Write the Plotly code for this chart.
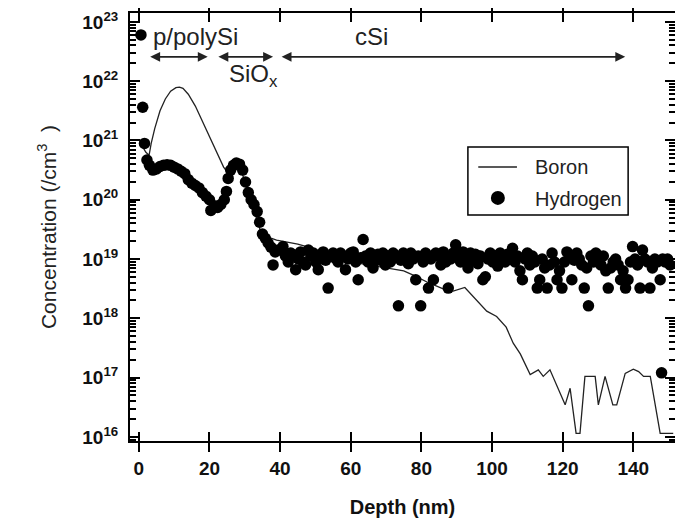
import numpy as np
import plotly.graph_objects as go

# ---------------- data ----------------
boron_depth = [0.5, 2.0, 2.9, 3.5, 4.5, 6.0, 7.5, 9.0, 10.5, 11.5, 12.5, 14.0, 16.0, 18.0, 20.0,
               22.0, 24.0, 25.3, 26.5, 27.5, 28.5, 29.5, 30.5, 31.5, 32.5, 33.5, 34.3, 35.5,
               37.0, 39.0, 41.8, 45.0, 48.0, 52.0, 56.0, 60.0, 65.0, 70.0, 75.0, 78.0, 82.0,
               86.0, 89.0, 92.3, 94.7, 98.5, 101.3, 104.0, 106.0, 108.0, 110.8, 113.1, 114.5,
               116.4, 120.7, 122.1, 123.8, 124.9, 126.3, 129.2, 130.1, 132.0, 134.2, 135.3,
               137.7, 140.0, 141.5, 142.9, 144.8, 147.6, 151.3]
boron_log10 = [20.95, 20.80, 20.75, 20.95, 21.20, 21.50, 21.70, 21.83, 21.89, 21.90, 21.88, 21.78,
               21.58, 21.32, 21.05, 20.80, 20.55, 20.45, 20.55, 20.60, 20.55, 20.40, 20.20, 20.00,
               19.85, 19.65, 19.50, 19.42, 19.36, 19.32, 19.29, 19.25, 19.20, 19.10, 19.02, 18.95,
               18.90, 18.85, 18.80, 18.72, 18.60, 18.50, 18.46, 18.52, 18.37, 18.12, 18.03, 17.85,
               17.58, 17.40, 17.05, 17.13, 17.02, 17.13, 16.54, 16.82, 16.06, 16.06, 17.02, 17.02,
               16.54, 17.02, 16.54, 16.54, 17.07, 17.14, 17.10, 17.02, 17.02, 16.06, 16.06]

hydrogen_depth = [0.6, 1.1, 1.6, 2.3, 3.0, 4.0, 5.0, 6.0, 7.0, 8.0, 9.0, 10.0, 11.0, 12.0, 13.0,
                  14.0, 15.0, 16.0, 17.0, 18.0, 19.0, 20.0, 20.4, 21.4, 22.3, 23.2, 24.2, 24.8,
                  25.3, 26.0, 26.8, 27.6, 28.5, 29.4, 30.2, 31.0, 31.8, 32.6, 33.5, 34.2, 35.0,
                  35.8, 36.6, 37.4, 38.0, 38.6,
                  39.5, 40.8, 41.5, 42.3, 43.0, 43.7, 44.4, 45.1, 45.8, 46.5, 47.2, 48.0, 48.7,
                  49.4, 50.1, 50.8, 51.5, 52.2, 52.9, 53.6, 54.3, 55.0, 55.7, 56.4, 57.1, 57.8,
                  58.5, 59.2, 60.0, 60.7, 61.4, 62.1, 62.8, 63.5, 64.2, 64.9, 65.6, 66.3, 67.0,
                  67.7, 68.4, 69.1, 69.8, 70.5, 71.2, 72.0, 72.7, 73.5, 74.2, 74.9, 75.6, 76.3,
                  77.0, 77.7, 78.4, 79.1, 79.8, 80.5, 81.2, 82.0, 82.7, 83.4, 84.1, 84.8, 85.5,
                  86.2, 86.9, 87.6, 88.3, 89.0, 89.7, 90.4, 91.1, 91.8, 92.5, 93.2, 93.9, 94.6,
                  95.3, 96.0, 96.7, 97.4, 98.1, 98.8, 99.5, 100.2, 100.9, 101.6, 102.3, 103.0,
                  103.7, 104.4, 105.1, 105.8, 106.5, 107.2, 107.9, 108.6, 109.3, 110.0, 110.7,
                  111.4, 112.1, 112.8, 113.5, 114.2, 114.9, 115.6, 116.3, 117.0, 117.7, 118.4,
                  119.1, 119.8, 120.5, 121.2, 121.9, 122.6, 123.3, 124.0, 124.7, 125.4, 126.1,
                  126.8, 127.3, 128.0, 128.7, 129.4, 130.1, 130.8, 131.5, 132.2, 132.9, 133.6,
                  134.3, 135.0, 135.7, 136.4, 137.1, 137.8, 138.5, 139.2, 139.8, 140.5, 141.2,
                  141.9, 142.6, 143.3, 144.0, 144.7, 145.4, 146.1, 146.8, 147.6, 148.0, 148.3,
                  149.0, 149.7, 150.4]
hydrogen_log10 = [22.78, 21.56, 20.95, 20.67, 20.58, 20.50, 20.52, 20.56, 20.58, 20.59, 20.58,
                  20.55, 20.52, 20.48, 20.44, 20.34, 20.28, 20.24, 20.20, 20.12, 20.06, 20.00,
                  19.82, 19.90, 19.87, 19.92, 20.00, 20.14, 20.36, 20.50, 20.58, 20.62, 20.60,
                  20.50, 20.30, 20.12, 20.00, 19.92, 19.80, 19.62, 19.42, 19.35, 19.27, 19.20,
                  18.90, 19.12,
                  19.15, 19.21, 19.05, 18.95, 19.10, 19.07, 18.82, 19.00, 19.12, 18.95, 18.90,
                  19.15, 19.05, 19.10, 18.95, 18.82, 19.00, 19.12, 18.98, 18.51, 19.05, 19.10,
                  19.01, 18.95, 19.10, 19.05, 18.82, 19.00, 19.10, 19.12, 18.95, 18.65, 19.02,
                  19.33, 19.05, 18.95, 19.10, 18.85, 19.00, 19.08, 18.98, 19.10, 18.90, 19.05,
                  18.95, 19.10, 19.02, 18.21, 18.98, 19.10, 19.05, 18.92, 19.10, 19.00, 18.65,
                  19.05, 18.21, 18.95, 19.10, 18.51, 19.00, 18.65, 19.10, 19.05, 18.90, 19.12,
                  18.95, 18.51, 19.00, 19.10, 19.24, 19.05, 18.95, 19.12, 19.00, 18.85, 19.10,
                  18.98, 19.08, 18.92, 19.05, 18.65, 18.70, 19.00, 19.10, 18.95, 19.05, 18.88,
                  19.10, 19.00, 18.95, 19.08, 19.00, 19.18, 18.95, 19.05, 18.80, 18.65, 19.00,
                  19.10, 18.90, 19.05, 18.95, 18.51, 18.65, 19.00, 18.85, 18.51, 18.90, 19.10,
                  18.95, 18.65, 18.80, 18.51, 18.95, 19.12, 19.05, 18.65, 18.98, 19.10, 19.00,
                  18.90, 18.51, 18.85, 18.21, 19.05, 18.95, 19.10, 18.98, 18.90, 19.05, 18.80,
                  18.51, 18.85, 18.95, 19.00, 18.90, 18.65, 18.80, 18.51, 18.65, 18.95, 19.21,
                  19.00, 18.90, 18.51, 19.15, 19.00, 18.95, 18.51, 18.85, 19.00, 18.95, 18.65,
                  17.08, 19.00, 18.95, 19.00, 18.90]

x_ticks = [0, 20, 40, 60, 80, 100, 120, 140]
y_exponents = [16, 17, 18, 19, 20, 21, 22, 23]

# region annotations (depth in nm, height as log10 concentration)
arrow_level = 22.41
regions = [(2.8, 19.5), (22.1, 38.0), (40.0, 137.7)]

boron_conc = np.power(10.0, boron_log10)
hydrogen_conc = np.power(10.0, hydrogen_log10)

FONT = "Liberation Sans, Arial, sans-serif"

fig = go.Figure()
fig.add_trace(go.Scatter(x=boron_depth, y=boron_conc, mode="lines", name="Boron",
                         line=dict(color="#222222", width=1.3)))
fig.add_trace(go.Scatter(x=hydrogen_depth, y=hydrogen_conc, mode="markers", name="Hydrogen",
                         marker=dict(color="black", size=11.5, line=dict(width=0))))
# carrier for the second (inside-tick) x axis
fig.add_trace(go.Scatter(x=[], y=[], xaxis="x2", yaxis="y", showlegend=False, hoverinfo="skip"))

xr = [-2.5, 151.8]
yr = [15.93, 23.15]

tickfont = dict(family=FONT, size=19, color="#111111", weight="bold")

minor_vals = [m * 10.0 ** e for e in range(15, 23) for m in range(2, 10)]

# the page adds an 8 px body margin, so the figure is made 8 px smaller
fig.update_layout(
    width=675, height=514,
    margin=dict(l=122, r=8, t=5, b=81, autoexpand=False),
    plot_bgcolor="white", paper_bgcolor="white",
    showlegend=False,
    xaxis=dict(range=xr, tickmode="array", tickvals=x_ticks, ticks="outside", ticklen=9,
               tickwidth=1.8, tickcolor="black", showline=True, linewidth=2, linecolor="black",
               mirror="ticks", showgrid=False, zeroline=False, tickfont=tickfont,
               automargin=False,
               title=dict(text="Depth (nm)", standoff=22,
                          font=dict(family=FONT, size=20, color="#111111", weight="bold"))),
    xaxis2=dict(range=xr, overlaying="x", anchor="y", side="bottom", tickmode="array",
                tickvals=x_ticks, ticks="inside", ticklen=9, tickwidth=1.8, tickcolor="black",
                mirror="ticks", showline=False, showgrid=False, zeroline=False,
                showticklabels=False, automargin=False),
    yaxis=dict(type="log", range=yr, tickmode="array",
               tickvals=[10.0 ** e for e in y_exponents],
               ticktext=["10<sup>%d</sup>" % e for e in y_exponents],
               ticks="inside", ticklen=10, tickwidth=2, tickcolor="black",
               minor=dict(ticks="inside", ticklen=6, tickwidth=1.6, tickcolor="black",
                          tickvals=minor_vals, showgrid=False),
               showline=True, linewidth=2, linecolor="black", mirror="ticks",
               showgrid=False, zeroline=False, tickfont=tickfont, ticklabelstandoff=6,
               automargin=False,
               title=dict(text="Concentration (/cm<sup>3</sup>  )", standoff=20,
                          font=dict(family=FONT, size=21, color="#222222"))),
)

# region labels and arrows
for (a, b) in regions:
    fig.add_annotation(x=b, y=arrow_level, ax=a, ay=arrow_level, xref="x", yref="y",
                       axref="x", ayref="y", text="", showarrow=True, arrowhead=2,
                       arrowside="end+start", arrowsize=1.1, arrowwidth=1.8,
                       arrowcolor="#222222", standoff=0, startstandoff=0)

lab_font = dict(family=FONT, size=24, color="#222222")
fig.add_annotation(x=3.4, y=22.75, xref="x", yref="y", text="p/polySi", showarrow=False,
                   xanchor="left", yanchor="middle", font=lab_font)
fig.add_annotation(x=24.9, y=22.09, xref="x", yref="y", text="SiO<sub>x</sub>",
                   showarrow=False, xanchor="left", yanchor="middle", font=lab_font)
fig.add_annotation(x=60.6, y=22.75, xref="x", yref="y", text="cSi", showarrow=False,
                   xanchor="left", yanchor="middle", font=lab_font)

# legend box (drawn manually to match the reference)
fig.add_shape(type="rect", xref="paper", yref="paper", x0=0.620, x1=0.914, y0=0.528, y1=0.687,
              line=dict(color="black", width=1.5), fillcolor="white", layer="above")
fig.add_shape(type="line", xref="paper", yref="paper", x0=0.639, x1=0.710, y0=0.640, y1=0.640,
              line=dict(color="#222222", width=1.5), layer="above")
fig.add_shape(type="circle", xref="paper", yref="paper", xsizemode="pixel", ysizemode="pixel",
              xanchor=0.675, yanchor=0.568, x0=-7, x1=7, y0=-7, y1=7,
              fillcolor="black", line=dict(width=0), layer="above")
leg_font = dict(family=FONT, size=20, color="#222222")
fig.add_annotation(x=0.740, y=0.640, xref="paper", yref="paper", text="Boron", showarrow=False,
                   xanchor="left", yanchor="middle", font=leg_font)
fig.add_annotation(x=0.740, y=0.565, xref="paper", yref="paper", text="Hydrogen",
                   showarrow=False, xanchor="left", yanchor="middle", font=leg_font)

fig.write_html("out.html")
